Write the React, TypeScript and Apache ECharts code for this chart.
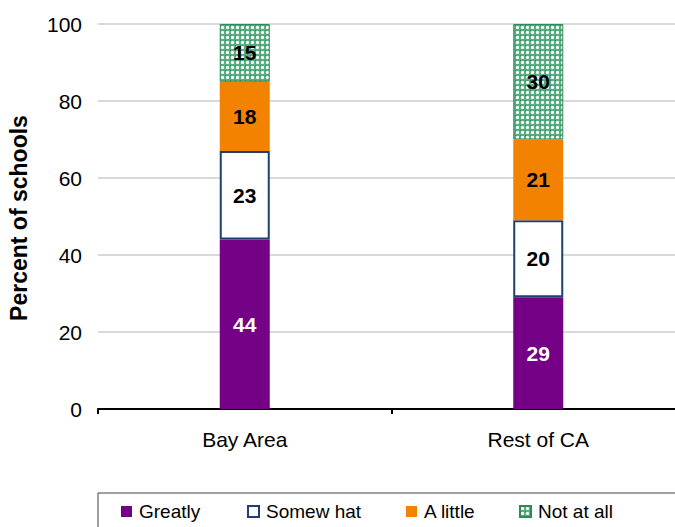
import React, { useEffect, useRef } from "react";
import * as echarts from "echarts";

const categories = ["Bay Area", "Rest of CA"];
const greatly = [44, 29];
const somewhat = [23, 20];
const aLittle = [18, 21];
const notAtAll = [15, 30];
const seriesNames = ["Greatly", "Somew hat", "A little", "Not at all"];
const yTicks = [0, 20, 40, 60, 80, 100];

const tileSvg =
  '<svg xmlns="http://www.w3.org/2000/svg" width="5" height="5" shape-rendering="crispEdges">' +
  '<rect width="5" height="5" fill="#5aae84"/>' +
  '<rect x="0" y="0" width="1" height="1" fill="#2e8b5a"/>' +
  '<rect x="2" y="1" width="1" height="3" fill="#ffffff"/>' +
  '<rect x="1" y="2" width="3" height="1" fill="#ffffff"/>' +
  '<rect x="1" y="1" width="1" height="1" fill="#cfe8da"/>' +
  '<rect x="3" y="3" width="1" height="1" fill="#cfe8da"/>' +
  '<rect x="3" y="1" width="1" height="1" fill="#cfe8da"/>' +
  '<rect x="1" y="3" width="1" height="1" fill="#cfe8da"/>' +
  "</svg>";
const tileUrl = "data:image/svg+xml;base64," + btoa(tileSvg);

export default function App() {
  const ref = useRef<HTMLDivElement>(null);
  useEffect(() => {
    if (!ref.current) return;
    const chart = echarts.init(ref.current, null, { renderer: "svg" });
    const font = "Liberation Sans, Arial, sans-serif";
    const pattern: any = { image: tileUrl, repeat: "repeat" };
    const labelBase = {
      show: true,
      position: "inside",
      fontFamily: font,
      fontSize: 21,
      fontWeight: "bold",
      color: "#000",
    };
    const legendLefts = [121, 247, 406, 519];
    chart.setOption({
      animation: false,
      backgroundColor: "#fff",
      grid: { left: 98, right: -10, top: 24, bottom: 118, outerBoundsMode: "none", containLabel: false },
      xAxis: {
        type: "category",
        data: categories,
        axisLine: { lineStyle: { color: "#000", width: 2 } },
        axisTick: { show: true, length: 5, lineStyle: { color: "#000", width: 2 } },
        axisLabel: { color: "#000", fontFamily: font, fontSize: 21, margin: 20 },
      },
      yAxis: {
        type: "value",
        min: yTicks[0],
        max: yTicks[yTicks.length - 1],
        interval: 20,
        axisLine: { show: false },
        axisTick: { show: false },
        axisLabel: { color: "#000", fontFamily: font, fontSize: 21, margin: 16 },
        splitLine: { lineStyle: { color: "#d9d9d9", width: 2 } },
      },
      legend: seriesNames.map((n, i) => ({
        data: [n],
        left: legendLefts[i],
        top: 502,
        padding: 0,
        itemWidth: 11,
        itemHeight: 11,
        itemGap: 6,
        icon: "rect",
        textStyle: { fontFamily: font, fontSize: 19, color: "#000", padding: [0, 0, 0, 2] },
      })),
      graphic: [
        {
          type: "rect",
          shape: { x: 98, y: 493, width: 620, height: 60 },
          style: { fill: "none", stroke: "#404040", lineWidth: 1 },
          silent: true,
        },
        {
          type: "text",
          x: 19,
          y: 218,
          rotation: Math.PI / 2,
          style: {
            text: "Percent of schools",
            fontFamily: font,
            fontSize: 23,
            fontWeight: "bold",
            fill: "#000",
            textAlign: "center",
            textVerticalAlign: "middle",
          },
        },
      ],
      series: [
        {
          name: seriesNames[0],
          type: "bar",
          stack: "s",
          barWidth: 50,
          data: greatly,
          itemStyle: { color: "#730085" },
          label: { ...labelBase, color: "#fff" },
        },
        {
          name: seriesNames[1],
          type: "bar",
          stack: "s",
          barWidth: 50,
          data: somewhat,
          itemStyle: { color: "#fff", borderColor: "#1f3f73", borderWidth: 2 },
          label: labelBase,
        },
        {
          name: seriesNames[2],
          type: "bar",
          stack: "s",
          barWidth: 50,
          data: aLittle,
          itemStyle: { color: "#f28200" },
          label: labelBase,
        },
        {
          name: seriesNames[3],
          type: "bar",
          stack: "s",
          barWidth: 50,
          data: notAtAll,
          itemStyle: { color: pattern, borderColor: "#2e8b57", borderWidth: 1 },
          label: labelBase,
        },
      ],
    });
    return () => chart.dispose();
  }, []);
  return (
    <div
      ref={ref}
      style={{ position: "fixed", left: 0, top: 0, width: 675, height: 527 }}
    />
  );
}
